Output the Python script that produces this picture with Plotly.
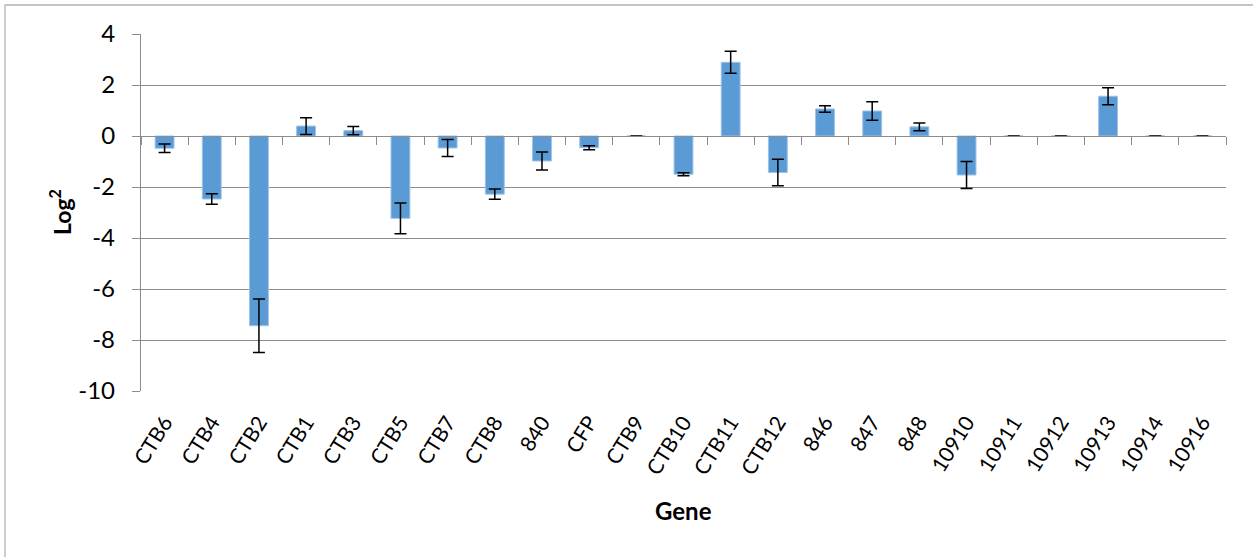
import plotly.graph_objects as go

genes = ["CTB6", "CTB4", "CTB2", "CTB1", "CTB3", "CTB5", "CTB7", "CTB8", "840", "CFP",
         "CTB9", "CTB10", "CTB11", "CTB12", "846", "847", "848", "10910", "10911", "10912",
         "10913", "10914", "10916"]
log2_values = [-0.48, -2.47, -7.44, 0.39, 0.21, -3.23, -0.47, -2.28, -0.98, -0.46,
               0.0, -1.50, 2.89, -1.43, 1.06, 0.98, 0.36, -1.53, 0.0, 0.0,
               1.56, 0.0, 0.0]
errors = [0.17, 0.21, 1.05, 0.33, 0.16, 0.60, 0.33, 0.20, 0.35, 0.08,
          0.0, 0.06, 0.43, 0.52, 0.13, 0.36, 0.15, 0.53, 0.0, 0.0,
          0.33, 0.0, 0.0]
y_ticks = [4, 2, 0, -2, -4, -6, -8, -10]

FONT = "Lato, Carlito, Calibri, sans-serif"
GRID = "#8c8c8c"

# plot area geometry (pixels)
W, H = 1253, 557
L, R, T, B = 141, 27, 34, 166
pw, ph = W - L - R, H - T - B
ymin, ymax = -10, 4
zero_pos = (0 - ymin) / (ymax - ymin)

fig = go.Figure()
fig.add_trace(go.Bar(
    x=genes, y=log2_values,
    marker=dict(color="#5B9BD5", line=dict(color="#9FC2E7", width=1)),
    width=0.4,
    error_y=dict(type="data", array=errors, visible=True, color="black",
                 thickness=1.5, width=6),
    xaxis="x2", yaxis="y",
    showlegend=False, hoverinfo="x+y",
))
# invisible trace carrying the bottom category labels
fig.add_trace(go.Scatter(x=genes, y=[0] * len(genes), xaxis="x", yaxis="y",
                         mode="markers", marker=dict(opacity=0),
                         showlegend=False, hoverinfo="skip"))

fig.update_layout(
    width=W, height=H,
    margin=dict(l=L, r=R, t=T, b=B),
    paper_bgcolor="white", plot_bgcolor="white",
    font=dict(family=FONT, color="black"),
    bargap=0.6,
    xaxis=dict(
        type="category", categoryorder="array", categoryarray=genes,
        range=[-0.5, len(genes) - 0.5],
        showgrid=False, zeroline=False, showline=False, ticks="",
        tickangle=-58, tickfont=dict(size=21, family=FONT),
        ticklabelstandoff=14,
    ),
    xaxis2=dict(
        type="category", categoryorder="array", categoryarray=genes,
        range=[-0.5, len(genes) - 0.5],
        overlaying="x", anchor="free", position=zero_pos,
        showgrid=False, zeroline=False, showline=True, linecolor=GRID, linewidth=1.3,
        ticks="outside", tickson="boundaries", ticklen=8, tickcolor=GRID, tickwidth=1.3,
        showticklabels=False,
    ),
    yaxis=dict(
        range=[ymin, ymax], tickvals=y_ticks, ticktext=[str(v) for v in y_ticks],
        showgrid=True, gridcolor=GRID, gridwidth=1.3,
        zeroline=False, showline=True, linecolor=GRID, linewidth=1.3,
        ticks="outside", ticklen=8, tickcolor=GRID, tickwidth=1.3,
        tickfont=dict(size=24, family=FONT), ticklabelstandoff=12,
    ),
    shapes=[dict(
        type="rect", xref="paper", yref="paper",
        x0=(5 - L) / pw, x1=(W + 10 - L) / pw,
        y0=-(B + 10) / ph, y1=1 + (T - 5) / ph,
        line=dict(color="#b3b3b3", width=1.3), fillcolor="rgba(0,0,0,0)", layer="below",
    )],
    annotations=[
        dict(text="<b>Gene</b>", xref="paper", yref="paper",
             x=(683 - L) / pw, y=-(510 - (T + ph)) / ph,
             xanchor="center", yanchor="middle", showarrow=False,
             font=dict(size=24, family=FONT)),
        dict(text="<b>Log<sup>2</sup></b>", xref="paper", yref="paper",
             x=(60 - L) / pw, y=1 - (212 - T) / ph,
             xanchor="center", yanchor="middle", showarrow=False, textangle=-90,
             font=dict(size=23, family=FONT)),
    ],
)

fig.write_html("out.html")
